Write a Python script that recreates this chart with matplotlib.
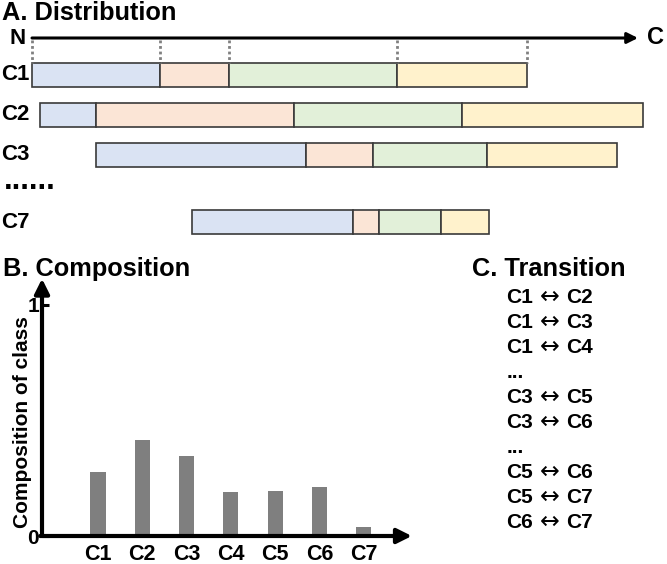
import matplotlib
matplotlib.use("Agg")
import matplotlib.pyplot as plt
import numpy as np

plt.rcParams['font.family'] = ['Liberation Sans', 'DejaVu Sans']
plt.rcParams['font.weight'] = 'bold'

# ---------------- data ----------------
# Panel A: segment starts and lengths (position units along N->C axis)
dist_labels = ["C1", "C2", "C3", "C7"]
dist_starts = [0, 8, 64, 160]
dist_lengths = [
    [128, 69, 168, 130],
    [56, 198, 168, 181],
    [210, 67, 114, 130],
    [161, 26, 62, 48],
]
seg_colors = ["#dae3f3", "#fbe5d6", "#e2f0d9", "#fff2cc"]

# Panel B: composition of classes
comp_classes = ["C1", "C2", "C3", "C4", "C5", "C6", "C7"]
comp_values = [0.277, 0.416, 0.346, 0.190, 0.195, 0.212, 0.039]

# Panel C: transitions (None = ellipsis)
transitions = [("C1", "C2"), ("C1", "C3"), ("C1", "C4"), None,
               ("C3", "C5"), ("C3", "C6"), None,
               ("C5", "C6"), ("C5", "C7"), ("C6", "C7")]

W, H = 667, 564
fig = plt.figure(figsize=(W / 100, H / 100), dpi=100)

def fx(px):
    return px / W

def fy(py):
    return 1 - py / H

TITLE_FS = 18.3
LABEL_FS = 16

# ---------------- Panel A ----------------
axA = fig.add_axes([0, fy(250), 1, 250 / H])
axA.set_xlim(-32, 635)
axA.set_ylim(4.375, -1.875)
axA.axis('off')

row_pos = [0, 1, 2, 3.675]
bar_h = 0.6
for r, (start, lens) in enumerate(zip(dist_starts, dist_lengths)):
    lefts = start + np.concatenate([[0], np.cumsum(lens)[:-1]])
    axA.barh([row_pos[r]] * len(lens), lens, left=lefts, height=bar_h,
             color=seg_colors, edgecolor="#3a3a3a", linewidth=1.2)
    axA.text(-31, row_pos[r], dist_labels[r], ha='left', va='center',
             fontsize=LABEL_FS, fontweight='bold')

axis_y = -0.925
axA.annotate('', xy=(606, axis_y), xytext=(0, axis_y),
             arrowprops=dict(arrowstyle='-|>', lw=2.2, color='black',
                             mutation_scale=16, shrinkA=0, shrinkB=0))
axA.text(-14, axis_y, "N", ha='center', va='center', fontsize=LABEL_FS, fontweight='bold')
axA.text(624, axis_y, "C", ha='center', va='center', fontsize=LABEL_FS + 1, fontweight='bold')

bounds = dist_starts[0] + np.concatenate([[0], np.cumsum(dist_lengths[0])])
for b in bounds:
    axA.plot([b, b], [axis_y + 0.06, row_pos[0] - bar_h / 2], color="#808080",
             lw=2.0, linestyle=(0, (1, 1)), solid_capstyle='butt')

axA.text(-28, 2.85, "......", ha='left', va='baseline', fontsize=22, fontweight='bold')

fig.text(fx(2), fy(20), "A. Distribution", ha='left', va='baseline',
         fontsize=TITLE_FS, fontweight='bold')

# ---------------- Panel B ----------------
axB = fig.add_axes([fx(42), fy(536), fx(410) - fx(42), (536 - 280) / H])
x = np.arange(1, len(comp_classes) + 1)
axB.bar(x, comp_values, width=0.34, color="#7f7f7f")
axB.set_xlim(-0.264, 8.04)
axB.set_ylim(0, 1.108)
for s in axB.spines.values():
    s.set_visible(False)
axB.set_xticks(x)
axB.set_xticklabels(comp_classes, fontsize=15.5, fontweight='bold')
axB.set_yticks([0, 1])
axB.set_yticklabels(["0", "1"], fontsize=15, fontweight='bold')
axB.tick_params(axis='x', length=0, pad=6)
axB.tick_params(axis='y', direction='in', length=5, width=2.2, pad=2)
axB.annotate('', xy=(0, 1.005), xytext=(0, 0), xycoords='axes fraction',
             arrowprops=dict(arrowstyle='-|>', lw=3, color='black',
                             mutation_scale=22, shrinkA=0, shrinkB=0))
axB.annotate('', xy=(1.005, 0), xytext=(-0.005, 0), xycoords='axes fraction',
             arrowprops=dict(arrowstyle='-|>', lw=3, color='black',
                             mutation_scale=22, shrinkA=0, shrinkB=0))
fig.text(fx(23), fy(422), "Composition of class", rotation=90, ha='center',
         va='center', fontsize=15, fontweight='bold')
fig.text(fx(3), fy(276), "B. Composition", ha='left', va='baseline',
         fontsize=TITLE_FS, fontweight='bold')

# ---------------- Panel C ----------------
fig.text(fx(472), fy(276), "C. Transition", ha='left', va='baseline',
         fontsize=TITLE_FS, fontweight='bold')
for i, t in enumerate(transitions):
    yb = fy(303 + 25 * i)
    if t is None:
        fig.text(fx(507), yb, "...", ha='left', va='baseline',
                 fontsize=15, fontweight='bold')
        continue
    fig.text(fx(506), yb, t[0], ha='left', va='baseline',
             fontsize=15, fontweight='bold')
    fig.text(fx(550), fy(303 + 25 * i - 6), "\u2194", ha='center', va='center',
             fontsize=17, fontweight='normal', family='DejaVu Sans')
    fig.text(fx(566), yb, t[1], ha='left', va='baseline',
             fontsize=15, fontweight='bold')

fig.savefig("out.png", dpi=100)
